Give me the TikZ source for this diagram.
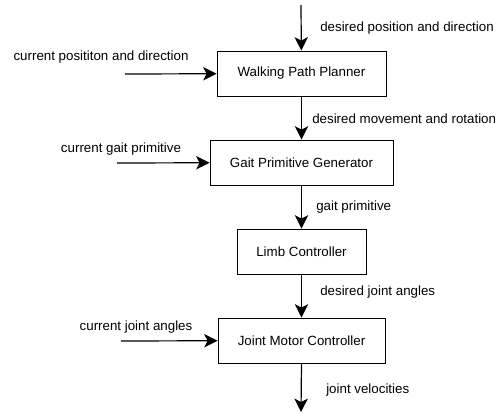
\documentclass[tikz,border=0pt]{standalone}
\usepackage{fontspec}
\setmainfont{Liberation Sans}
\usetikzlibrary{arrows.meta,positioning}
\tikzset{block/.style={rectangle,draw=black,line width=0.7pt,minimum height=33.75pt,font=\fontsize{10}{12}\selectfont},
  lbl/.style={inner sep=0pt,font=\fontsize{10}{12}\selectfont},
  flow/.style={-{Stealth[length=10pt,width=10pt,inset=2.5pt]},line width=0.9pt}}

\begin{document}
\begin{tikzpicture}[x=0.75pt,y=-0.75pt]
\useasboundingbox (0,0) rectangle (501,415);
% \draw[help lines] (0,0) grid (501,415);
\node (wpp) [block,minimum width=126.75pt] at (301.5,73.5) {Walking Path Planner};
\node (gpg) [block,minimum width=137.25pt] at (301.5,162.5) {Gait Primitive Generator};
\node (lc) [block,minimum width=96.75pt] at (301.5,251.5) {Limb Controller};
\node (jmc) [block,minimum width=125.25pt] at (301.5,340.5) {Joint Motor Controller};
%
\coordinate (in) at (301,5);
\coordinate (out) at (301,412);
\coordinate (cur1) at (125,74);
\coordinate (cur2) at (117,163);
\coordinate (cur4) at (121,341);
%
\path[flow] (in) edge (wpp);
\path[flow] (wpp) edge (gpg);
\path[flow] (gpg) edge (lc);
\path[flow] (lc) edge (jmc);
\path[flow] (jmc.south) edge (out);
\path[flow] (cur1) edge (wpp);
\path[flow] (cur2) edge (gpg);
\path[flow] (cur4) edge (jmc);
%
\node (ldp) [lbl,anchor=west] at (320,28) {desired position and direction};
\node (ldm) [lbl,anchor=west] at (312,119) {desired movement and rotation};
\node (lgp) [lbl,anchor=west] at (316,207) {gait primitive};
\node (ldj) [lbl,anchor=west] at (320,292) {desired joint angles};
\node (ljv) [lbl,anchor=west] at (326,390) {joint velocities};
\node (lcp) [lbl] at (101,57) {current posititon and direction};
\node (lcg) [lbl] at (121,149) {current gait primitive};
\node (lcj) [lbl] at (136,327) {current joint angles};
%
\end{tikzpicture}
\end{document}
